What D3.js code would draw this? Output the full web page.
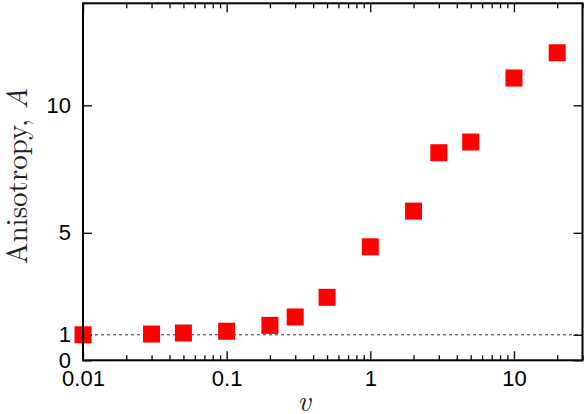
<!DOCTYPE html>
<html>
<head>
<meta charset="utf-8">
<script src="https://cdn.jsdelivr.net/npm/d3@7"></script>
<style>
  html, body { margin: 0; padding: 0; background: #fff; }
  svg { display: block; }
</style>
</head>
<body>
<div id="chart"></div>
<script>
// ---- data ----
const vValues = [0.01, 0.03, 0.05, 0.1, 0.2, 0.3, 0.5, 1, 2, 3, 5, 10, 20];
const anisotropy = [1.0, 1.03, 1.07, 1.14, 1.37, 1.70, 2.47, 4.45, 5.85, 8.14, 8.56, 11.07, 12.06];
const xTickValues = [0.01, 0.1, 1, 10];
const xTickLabels = ["0.01", "0.1", "1", "10"];
const yTickValues = [0, 1, 5, 10];
const yTickLabels = ["0", "1", "5", "10"];
const referenceLevel = [1];

// ---- layout ----
const W = 585, H = 414;
const margin = {left: 83, right: 2.5, top: 3.3, bottom: 53.7};
const iw = W - margin.left - margin.right;
const ih = H - margin.top - margin.bottom;

const svg = d3.select("#chart").append("svg").attr("width", W).attr("height", H);
const g = svg.append("g").attr("transform", `translate(${margin.left},${margin.top})`);

const x = d3.scaleLog().domain([0.01, 30]).range([0, iw]);
const y = d3.scaleLinear().domain([0, 14]).range([ih, 0]);

// minor tick values for log axis
const minorTicks = [];
[0.01, 0.1, 1, 10].forEach(d => { for (let k = 2; k <= 9; k++) { const v = d * k; if (v <= 30) minorTicks.push(v); } });

const tickFont = "'Liberation Sans', Arial, Helvetica, sans-serif";

function styleAxis(sel) {
  sel.select(".domain").remove();
  sel.selectAll(".tick line").attr("stroke", "#000").attr("stroke-width", 1.3);
  sel.selectAll(".tick text").attr("font-family", tickFont).attr("font-size", 22).attr("fill", "#000");
}

// reference dashed line
g.selectAll(".ref").data(referenceLevel).enter().append("line")
  .attr("x1", 0).attr("x2", iw)
  .attr("y1", d => y(d)).attr("y2", d => y(d))
  .attr("stroke", "#333").attr("stroke-width", 1).attr("stroke-dasharray", "3,3");

// bottom axis
g.append("g").attr("transform", `translate(0,${ih})`)
  .call(d3.axisBottom(x).tickValues(xTickValues).tickSize(-9).tickPadding(10)
    .tickFormat((d, i) => xTickLabels[i]))
  .call(styleAxis);
g.append("g").attr("transform", `translate(0,${ih})`)
  .call(d3.axisBottom(x).tickValues(minorTicks).tickSize(-5).tickFormat(""))
  .call(styleAxis);
// top axis (mirror)
g.append("g")
  .call(d3.axisTop(x).tickValues(xTickValues).tickSize(-9).tickFormat(""))
  .call(styleAxis);
g.append("g")
  .call(d3.axisTop(x).tickValues(minorTicks).tickSize(-5).tickFormat(""))
  .call(styleAxis);
// left axis
g.append("g")
  .call(d3.axisLeft(y).tickValues(yTickValues).tickSize(-9).tickPadding(12)
    .tickFormat((d, i) => yTickLabels[i]))
  .call(styleAxis);
// right axis (mirror)
g.append("g").attr("transform", `translate(${iw},0)`)
  .call(d3.axisRight(y).tickValues(yTickValues).tickSize(-9).tickFormat(""))
  .call(styleAxis);

// points
const pts = vValues.map((v, i) => ({v, a: anisotropy[i]}));
const s = 17;
g.selectAll(".pt").data(pts).enter().append("rect")
  .attr("x", d => x(d.v) - s / 2)
  .attr("y", d => y(d.a) - s / 2)
  .attr("width", s).attr("height", s)
  .attr("fill", "#ff0000");

// frame
g.append("rect").attr("x", 0).attr("y", 0).attr("width", iw).attr("height", ih)
  .attr("fill", "none").attr("stroke", "#000").attr("stroke-width", 2);

// axis titles
const serif = "'Latin Modern Roman', 'Liberation Serif', 'Times New Roman', serif";
const yl = svg.append("text")
  .attr("transform", `translate(27,176) rotate(-90)`)
  .attr("text-anchor", "middle")
  .attr("font-family", serif).attr("font-size", 29).attr("fill", "#222");
yl.append("tspan").text("Anisotropy, ");
yl.append("tspan").attr("font-style", "italic").text("A");

svg.append("text")
  .attr("x", margin.left + x(0.3) + 9)
  .attr("y", 411)
  .attr("text-anchor", "middle")
  .attr("font-family", serif).attr("font-size", 29).attr("font-style", "italic").attr("fill", "#222")
  .text("v");
</script>
</body>
</html>
